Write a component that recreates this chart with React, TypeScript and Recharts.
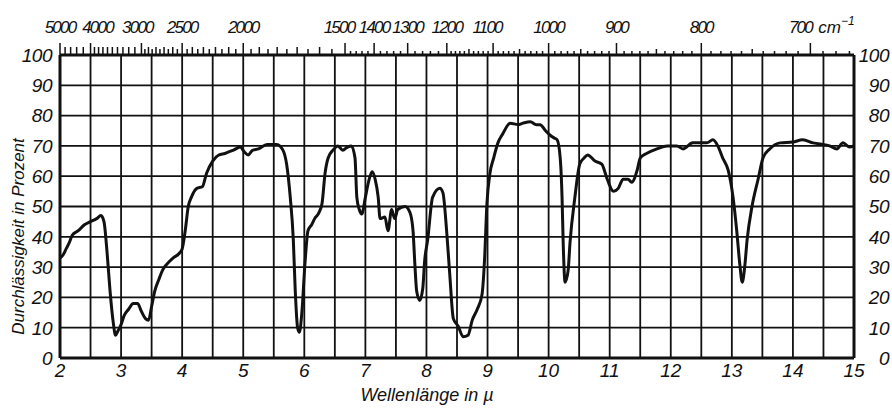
import React from 'react';
import { LineChart, Line, XAxis, YAxis, CartesianGrid } from 'recharts';

const wavelengths = [
  2.0, 2.05, 2.1, 2.15, 2.2, 2.3, 2.4, 2.5, 2.6, 2.67, 2.72, 2.77, 2.82, 2.87, 2.91, 2.95,
  3.0, 3.05, 3.12, 3.2, 3.27, 3.33, 3.4, 3.45, 3.5, 3.55, 3.62, 3.68, 3.75, 3.85, 3.95,
  4.0, 4.05, 4.1, 4.15, 4.24, 4.33, 4.4, 4.5, 4.6, 4.7, 4.84, 4.95,
  5.02, 5.08, 5.15, 5.25, 5.39, 5.55, 5.65, 5.71, 5.77, 5.82, 5.85, 5.89, 5.92, 5.96,
  6.01, 6.06, 6.12, 6.17, 6.24, 6.29, 6.34, 6.39, 6.47, 6.55, 6.63, 6.7, 6.77, 6.83, 6.86, 6.9, 6.94,
  7.0, 7.05, 7.11, 7.16, 7.21, 7.24, 7.32, 7.37, 7.43, 7.48, 7.53, 7.65, 7.73, 7.78, 7.81, 7.84, 7.89, 7.94, 7.97,
  8.02, 8.1, 8.22, 8.27, 8.33, 8.38, 8.44, 8.52, 8.6, 8.68, 8.75, 8.83, 8.91, 8.95, 8.99,
  9.04, 9.1, 9.17, 9.25, 9.37, 9.5, 9.58, 9.7, 9.8, 9.86, 9.95,
  10.02, 10.1, 10.14, 10.19, 10.22, 10.24, 10.27, 10.32, 10.35, 10.43, 10.51, 10.58, 10.64, 10.76, 10.87, 10.96,
  11.06, 11.14, 11.22, 11.3, 11.36, 11.45, 11.5, 11.61, 11.77, 11.94,
  12.1, 12.2, 12.36, 12.59, 12.69, 12.77, 12.85, 12.94,
  13.02, 13.08, 13.13, 13.17, 13.21, 13.25, 13.33, 13.43, 13.51, 13.62, 13.79,
  14.0, 14.16, 14.33, 14.6, 14.72, 14.82, 14.93, 15.0,
];

const transmission = [
  33, 34, 36, 38, 40.5, 42, 44, 45, 46, 47, 45, 35, 22, 12, 7.5, 9,
  11, 14, 16, 18, 18, 15.5, 13, 12.5, 17, 22, 26, 29, 31, 33, 34.5,
  36, 42, 50, 53, 56, 56.5, 61, 65, 67, 67.5, 68.6, 69.6,
  68, 67, 68.5, 69, 70.5, 70.5, 68.6, 64, 53, 39, 23, 10, 8.5, 15,
  31, 42, 44, 46, 48, 51, 61, 66, 68.6, 70, 68.6, 69.5, 70, 66, 53, 49, 47.5,
  53, 58, 61.5, 59, 53, 46, 46.5, 42, 49, 46, 49, 50, 48, 42, 31, 22, 19, 23, 32,
  39, 53, 56, 54.5, 42, 28, 13, 10.5, 7, 7.5, 12.5, 16, 21, 32, 51,
  61, 66, 71, 74, 77.5, 77, 77.5, 78, 77, 77, 75,
  73.6, 72.5, 72, 66, 53, 37, 25, 29, 38, 53, 64, 66, 67, 65, 64, 59,
  55, 56, 59, 59, 58, 62, 66, 67.6, 69, 70,
  70, 69, 71, 71, 72, 70, 66, 62,
  53, 42, 31, 25, 30, 39, 50, 59, 66, 69, 71,
  71.3, 72, 71, 70, 69, 71, 69.6, 70,
];

const wavelengthTicks = [
  2, 2.5, 3, 3.5, 4, 4.5, 5, 5.5, 6, 6.5, 7, 7.5, 8, 8.5, 9, 9.5, 10,
  10.5, 11, 11.5, 12, 12.5, 13, 13.5, 14, 14.5, 15,
];
const percentTicks = [0, 10, 20, 30, 40, 50, 60, 70, 80, 90, 100];

const wavenumberLabels = [5000, 4000, 3000, 2500, 2000, 1500, 1400, 1300, 1200, 1100, 1000, 900, 800, 700];
const wavenumberMinor = [
  4800, 4600, 4400, 4200,
  3900, 3800, 3700, 3600, 3500, 3400, 3300, 3200, 3100,
  2950, 2900, 2850, 2800, 2750, 2700, 2650, 2600, 2550,
  2450, 2400, 2350, 2300, 2250, 2200, 2150, 2100, 2050,
  1950, 1900, 1850, 1800, 1750, 1700, 1650, 1600, 1550,
  1480, 1460, 1440, 1420, 1380, 1360, 1340, 1320, 1280, 1260, 1240, 1220,
  1190, 1180, 1170, 1160, 1150, 1140, 1130, 1120, 1110,
  1090, 1080, 1070, 1060, 1050, 1040, 1030, 1020, 1010,
  990, 980, 970, 960, 950, 940, 930, 920, 910,
  890, 880, 870, 860, 850, 840, 830, 820, 810,
  790, 780, 770, 760, 750, 740, 730, 720, 710,
  690, 680, 670,
];

const data = wavelengths.map((x, i) => ({ x, t: transmission[i] }));
const topTicks = [...wavenumberLabels, ...wavenumberMinor]
  .map((wn) => 10000 / wn)
  .sort((a, b) => a - b);

const FONT = "'Liberation Sans', Arial, sans-serif";
const INK = '#111';

const labelShift: Record<number, number> = { 4000: 7, 3000: -4, 1500: -6, 1100: -6, 700: -10 };

const TopTick = (props: any) => {
  const { x, y, payload } = props;
  const wn = Math.round(10000 / payload.value);
  const major = wavenumberLabels.includes(wn);
  const len = major ? 12 : wn % 100 === 0 ? 8 : wn % 50 === 0 ? 6 : 4;
  const dx = labelShift[wn] || 0;
  return (
    <g>
      <line x1={x} x2={x} y1={y} y2={y - len} stroke={INK} strokeWidth={1.5} />
      {major && (
        <text
          x={x + dx}
          y={y - 22}
          textAnchor="middle"
          fontFamily={FONT}
          fontStyle="italic"
          fontSize={17}
          fill={INK}
          letterSpacing={-1.8}
        >
          {wn}
        </text>
      )}
      {wn === 700 && (
        <text x={x + dx + 18} y={y - 22} textAnchor="start" fontFamily={FONT} fontStyle="italic" fontSize={17} fill={INK}>
          cm
          <tspan dy={-8} fontSize={12}>−1</tspan>
        </text>
      )}
    </g>
  );
};

const BottomTick = (props: any) => {
  const { x, y, payload } = props;
  const v = payload.value;
  if (!Number.isInteger(v)) return <g />;
  return (
    <text x={x} y={y} dy="0.71em" textAnchor="middle" fontFamily={FONT} fontStyle="italic" fontSize={19} fill={INK}>
      {v}
    </text>
  );
};

const LeftTick = (props: any) => {
  const { x, y, payload } = props;
  return (
    <text x={x} y={y} dy="0.36em" textAnchor="end" fontFamily={FONT} fontStyle="italic" fontSize={19} fill={INK} letterSpacing={-0.5}>
      {payload.value}
    </text>
  );
};

const RightTick = (props: any) => {
  const { x, y, payload } = props;
  return (
    <text x={x + 27} y={y} dy="0.36em" textAnchor="end" fontFamily={FONT} fontStyle="italic" fontSize={19} fill={INK} letterSpacing={-0.5}>
      {payload.value}
    </text>
  );
};

export default function App() {
  return (
    <div style={{ position: 'absolute', left: 0, top: 0, width: 892, height: 408, background: '#fff' }}>
      <LineChart width={892} height={408} data={data} margin={{ top: 0, right: 0, bottom: 0, left: 0 }}>
        <CartesianGrid stroke={INK} strokeWidth={1.8} />
        <XAxis
          dataKey="x"
          type="number"
          domain={[2, 15]}
          ticks={wavelengthTicks}
          interval={0}
          height={50}
          tickSize={0}
          tickMargin={6}
          tick={<BottomTick />}
          axisLine={{ stroke: INK, strokeWidth: 3 }}
          allowDataOverflow
          label={{
            content: (p: any) => {
              const vb = p.viewBox;
              return (
                <text
                  x={vb.x + vb.width / 2 - 30}
                  y={vb.y + 43}
                  textAnchor="middle"
                  fontFamily={FONT}
                  fontStyle="italic"
                  fontSize={18}
                  fill={INK}
                >
                  Wellenlänge  in  µ
                </text>
              );
            },
          }}
        />
        <XAxis
          xAxisId="top"
          orientation="top"
          dataKey="x"
          type="number"
          domain={[2, 15]}
          ticks={topTicks}
          interval={0}
          height={55}
          tickSize={0}
          tickMargin={0}
          tickLine={false}
          tick={<TopTick />}
          axisLine={{ stroke: INK, strokeWidth: 3 }}
          allowDataOverflow
        />
        <YAxis
          type="number"
          domain={[0, 100]}
          ticks={percentTicks}
          interval={0}
          width={60}
          tickSize={0}
          tickMargin={8}
          tick={<LeftTick />}
          axisLine={{ stroke: INK, strokeWidth: 3 }}
          allowDataOverflow
          label={{
            content: (p: any) => {
              const vb = p.viewBox;
              const cx = vb.x + 18;
              const cy = vb.y + vb.height / 2 + 30;
              return (
                <text
                  x={cx}
                  y={cy}
                  transform={`rotate(-90 ${cx} ${cy})`}
                  textAnchor="middle"
                  dominantBaseline="central"
                  fontFamily={FONT}
                  fontStyle="italic"
                  fontSize={17}
                  fill={INK}
                >
                  Durchlässigkeit in Prozent
                </text>
              );
            },
          }}
        />
        <YAxis
          yAxisId="right"
          orientation="right"
          type="number"
          domain={[0, 100]}
          ticks={percentTicks}
          interval={0}
          width={38}
          tickSize={0}
          tickMargin={8}
          tick={<RightTick />}
          axisLine={{ stroke: INK, strokeWidth: 3 }}
          allowDataOverflow
        />
        <Line
          dataKey="t"
          type="monotone"
          stroke={INK}
          strokeWidth={3}
          dot={false}
          isAnimationActive={false}
        />
      </LineChart>
    </div>
  );
}
